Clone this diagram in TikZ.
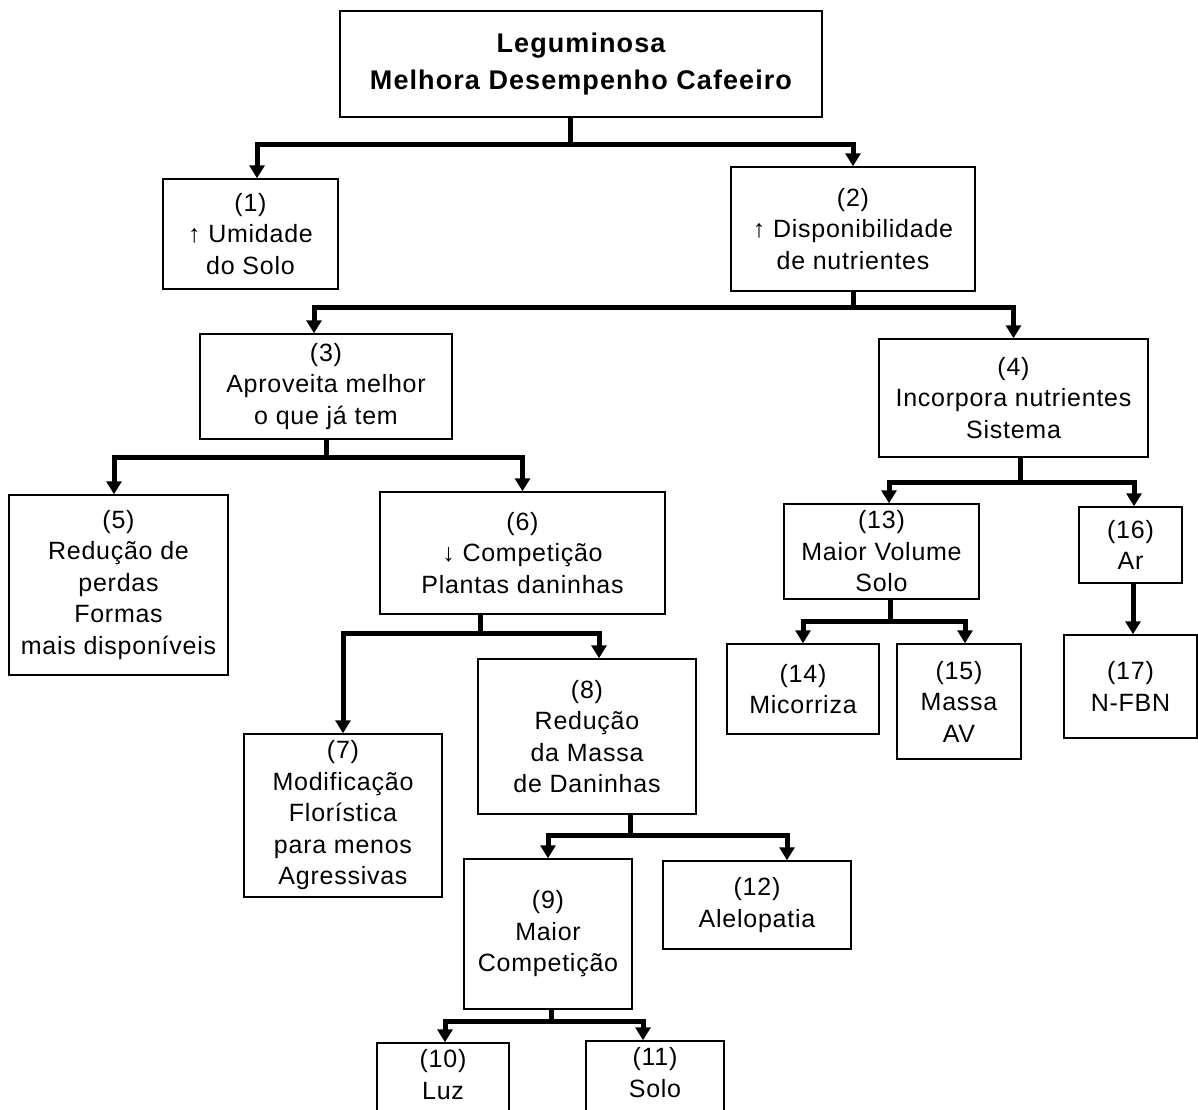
\documentclass[tikz,border=0pt]{standalone}
\usepackage{fontspec}
\setmainfont{Liberation Sans}[LetterSpace=3]
\usetikzlibrary{arrows.meta}

\begin{document}
\begin{tikzpicture}[x=1pt,y=-1pt,
    box/.style={draw, line width=1.5pt, align=center, inner sep=0pt,
      font=\fontsize{25}{31.5}\selectfont},
    conn/.style={line width=5pt, -{Triangle[width=15pt,length=13pt]}}]
      \useasboundingbox (0,0) rectangle (1198,1109);
      \clip (0,0) rectangle (1198,1109);
      % boxes, placed at their centres
      \node[box, minimum width=482, minimum height=106,
        font=\fontsize{27}{37}\selectfont\bfseries\addfontfeature{LetterSpace=4}] (top) at (581,64) {Leguminosa\\Melhora Desempenho Cafeeiro};
      \node[box, minimum width=175, minimum height=110] (n1) at (250.5,234) {(1)\\↑ Umidade\\do Solo};
      \node[box, minimum width=244, minimum height=124] (n2) at (853,229) {(2)\\↑ Disponibilidade\\de nutrientes};
      \node[box, minimum width=252, minimum height=105] (n3) at (326,386.5) {(3)\\Aproveita melhor\\o que já tem};
      \node[box, minimum width=269, minimum height=118] (n4) at (1013.5,398) {(4)\\Incorpora nutrientes\\Sistema};
      \node[box, minimum width=219, minimum height=180] (n5) at (118.5,585) {(5)\\Redução de\\perdas\\Formas\\mais disponíveis};
      \node[box, minimum width=285, minimum height=122] (n6) at (522.5,553) {(6)\\↓ Competição\\Plantas daninhas};
      \node[box, minimum width=198, minimum height=163] (n7) at (343,815.5) {(7)\\Modificação\\Florística\\para menos\\Agressivas};
      \node[box, minimum width=218, minimum height=155] (n8) at (587,736.5) {(8)\\Redução\\da Massa\\de Daninhas};
      \node[box, minimum width=168, minimum height=150] (n9) at (548,934) {(9)\\Maior\\Competição};
      \node[box, minimum width=132, minimum height=126] (n10) at (443,1106) {(10)\\Luz\\\mbox{}\\\mbox{}};
      \node[box, minimum width=138, minimum height=126] (n11) at (655,1104) {(11)\\Solo\\\mbox{}\\\mbox{}};
      \node[box, minimum width=188, minimum height=88] (n12) at (757,905) {(12)\\Alelopatia};
      \node[box, minimum width=195, minimum height=95] (n13) at (881.5,551.5) {(13)\\Maior Volume\\Solo};
      \node[box, minimum width=152, minimum height=90] (n14) at (803,689) {(14)\\Micorriza};
      \node[box, minimum width=124, minimum height=115] (n15) at (959,701.5) {(15)\\Massa\\AV};
      \node[box, minimum width=103, minimum height=76] (n16) at (1130.5,545) {(16)\\Ar};
      \node[box, minimum width=133, minimum height=103] (n17) at (1130.5,686.5) {(17)\\N-FBN};
      % connectors
      \draw[conn] ([xshift=-11]top.south) -- ++(0,27) -| ([xshift=6.5]n1.north);
      \draw[conn] ([xshift=-11]top.south) -- ++(0,27) -| (n2.north);
      \draw[conn] (n2.south) -- ++(0,16) -| ([xshift=-12]n3.north);
      \draw[conn] (n2.south) -- ++(0,16) -| (n4.north);
      \draw[conn] (n3.south) -- ++(0,18) -| ([xshift=-4.5]n5.north);
      \draw[conn] (n3.south) -- ++(0,18) -| (n6.north);
      \draw[conn] ([xshift=-42.5]n6.south) -- ++(0,19) -| (n7.north);
      \draw[conn] ([xshift=-42.5]n6.south) -- ++(0,19) -| ([xshift=12]n8.north);
      \draw[conn] ([xshift=43]n8.south) -- ++(0,21) -| (n9.north);
      \draw[conn] ([xshift=43]n8.south) -- ++(0,21) -| ([xshift=30]n12.north);
      \draw[conn] ([xshift=3]n9.south) -- ++(0,12) -| ([xshift=2]n10.north);
      \draw[conn] ([xshift=3]n9.south) -- ++(0,12) -| ([xshift=-12]n11.north);
      \draw[conn] ([xshift=6.5]n4.south) -- ++(0,25) -| ([xshift=7.5]n13.north);
      \draw[conn] ([xshift=6.5]n4.south) -- ++(0,25) -| ([xshift=3.5]n16.north);
      \draw[conn] ([xshift=8.5]n13.south) -- ++(0,22) -| (n14.north);
      \draw[conn] ([xshift=8.5]n13.south) -- ++(0,22) -| ([xshift=6]n15.north);
      \draw[conn] ([xshift=2.5]n16.south) -- ([xshift=2.5]n17.north);
\end{tikzpicture}
\end{document}
